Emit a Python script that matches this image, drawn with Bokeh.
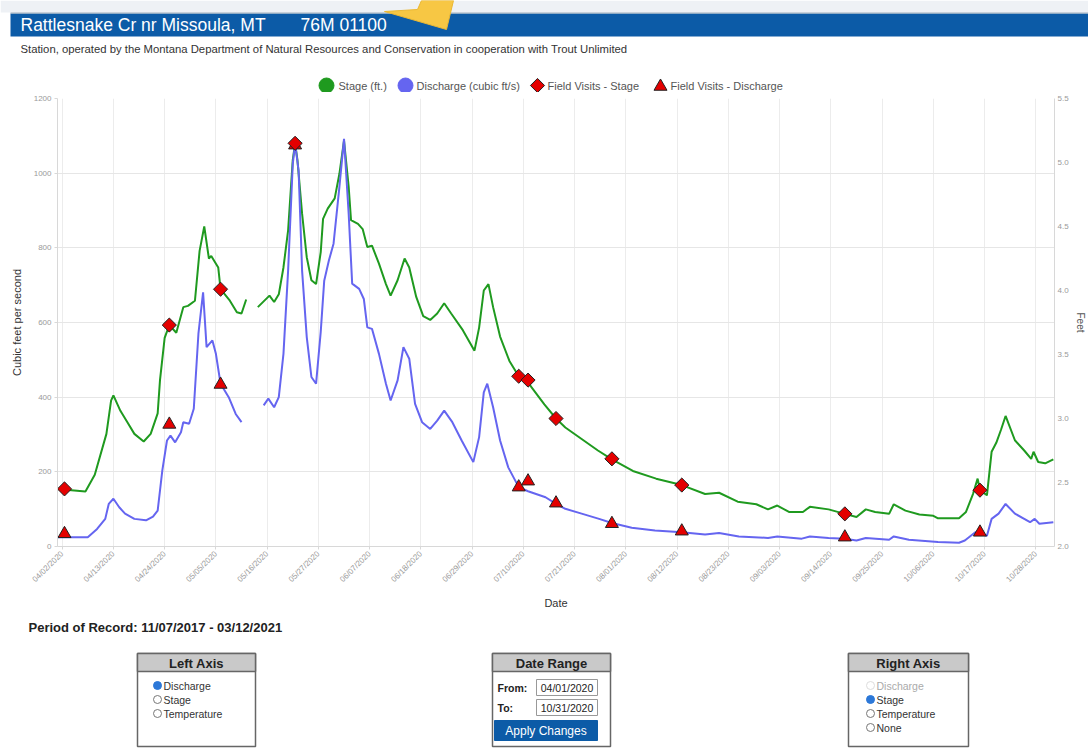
from math import pi
import pandas as pd
from bokeh.plotting import figure
from bokeh.models import (Range1d, LinearAxis, FixedTicker, DatetimeTickFormatter,
                          PrintfTickFormatter)
from bokeh.core.properties import value
from bokeh.embed import file_html
from bokeh.resources import INLINE

NaN = float("nan")

# ------------------------------------------------------------------ data
stage_dates = [
    "2020-04-01 00:00", "2020-04-04 00:00", "2020-04-07 00:00", "2020-04-09 00:00",
    "2020-04-11 12:00", "2020-04-12 12:00", "2020-04-13 00:00", "2020-04-14 12:00",
    "2020-04-16 00:00", "2020-04-17 12:00", "2020-04-19 12:00", "2020-04-21 00:00",
    "2020-04-22 12:00", "2020-04-23 00:00", "2020-04-24 00:00", "2020-04-25 00:00",
    "2020-04-26 12:00", "2020-04-28 00:00", "2020-04-29 00:00", "2020-04-30 12:00",
    "2020-05-01 12:00", "2020-05-02 12:00", "2020-05-03 12:00", "2020-05-04 00:00",
    "2020-05-05 12:00", "2020-05-06 00:00", "2020-05-08 00:00", "2020-05-09 12:00",
    "2020-05-10 12:00", "2020-05-11 12:00", "2020-05-12 12:00", "2020-05-14 00:00",
    "2020-05-16 12:00", "2020-05-17 12:00", "2020-05-18 12:00", "2020-05-19 12:00",
    "2020-05-20 12:00", "2020-05-21 12:00", "2020-05-22 00:00", "2020-05-22 12:00",
    "2020-05-23 12:00", "2020-05-24 12:00", "2020-05-25 12:00", "2020-05-26 12:00",
    "2020-05-27 12:00", "2020-05-28 00:00", "2020-05-29 00:00", "2020-05-30 12:00",
    "2020-05-31 12:00", "2020-06-01 12:00", "2020-06-02 12:00", "2020-06-03 00:00",
    "2020-06-04 12:00", "2020-06-05 12:00", "2020-06-06 12:00", "2020-06-07 12:00",
    "2020-06-09 00:00", "2020-06-10 12:00", "2020-06-11 12:00", "2020-06-13 00:00",
    "2020-06-14 12:00", "2020-06-15 12:00", "2020-06-17 00:00", "2020-06-18 12:00",
    "2020-06-20 00:00", "2020-06-21 12:00", "2020-06-23 00:00", "2020-06-24 12:00",
    "2020-06-27 00:00", "2020-06-29 12:00", "2020-06-30 12:00", "2020-07-01 12:00",
    "2020-07-02 12:00", "2020-07-03 12:00", "2020-07-05 00:00", "2020-07-07 00:00",
    "2020-07-09 00:00", "2020-07-11 00:00", "2020-07-14 12:00", "2020-07-17 00:00",
    "2020-07-19 00:00", "2020-07-22 12:00", "2020-07-26 00:00", "2020-07-29 00:00",
    "2020-08-02 12:00", "2020-08-07 12:00", "2020-08-13 00:00", "2020-08-18 00:00",
    "2020-08-21 00:00", "2020-08-25 00:00", "2020-08-29 00:00", "2020-08-31 12:00",
    "2020-09-02 12:00", "2020-09-05 00:00", "2020-09-08 00:00", "2020-09-09 12:00",
    "2020-09-13 12:00", "2020-09-17 00:00", "2020-09-19 12:00", "2020-09-21 12:00",
    "2020-09-23 12:00", "2020-09-26 12:00", "2020-09-27 12:00", "2020-09-30 00:00",
    "2020-10-03 00:00", "2020-10-06 00:00", "2020-10-07 00:00", "2020-10-11 12:00",
    "2020-10-13 00:00", "2020-10-14 12:00", "2020-10-15 12:00", "2020-10-16 00:00",
    "2020-10-17 12:00", "2020-10-18 12:00", "2020-10-19 12:00", "2020-10-20 12:00",
    "2020-10-21 12:00", "2020-10-23 12:00", "2020-10-25 12:00", "2020-10-27 00:00",
    "2020-10-27 12:00", "2020-10-28 12:00", "2020-10-30 00:00", "2020-10-31 18:00",
]
stage_ft = [
    2.45, 2.44, 2.43, 2.56,
    2.88, 3.14, 3.18, 3.06,
    2.97, 2.88, 2.82, 2.88,
    3.04, 3.30, 3.63, 3.73,
    3.67, 3.87, 3.88, 3.92,
    4.31, 4.50, 4.25, 4.27,
    4.18, 4.01, 3.92, 3.83,
    3.82, 3.93, NaN, 3.87,
    3.96, 3.91, 3.97, 4.18,
    4.47, 5.02, 5.15, 5.02,
    4.60, 4.26, 4.08, 4.05,
    4.30, 4.56, 4.64, 4.72,
    4.91, 5.17, 4.81, 4.55,
    4.52, 4.48, 4.34, 4.35,
    4.21, 4.05, 3.96, 4.08,
    4.25, 4.18, 3.95, 3.80,
    3.77, 3.82, 3.90, 3.82,
    3.69, 3.53, 3.71, 4.00,
    4.05, 3.87, 3.64, 3.45,
    3.33, 3.28, 3.11, 3.00,
    2.93, 2.84, 2.75, 2.68,
    2.59, 2.53, 2.48, 2.41,
    2.42, 2.35, 2.33, 2.29,
    2.32, 2.27, 2.27, 2.31,
    2.29, 2.255, 2.23, 2.29,
    2.27, 2.255, 2.33, 2.28,
    2.25, 2.24, 2.22, 2.22,
    2.27, 2.41, 2.53, 2.44,
    2.40, 2.74, 2.81, 2.91,
    3.02, 2.83, 2.75, 2.685,
    2.74, 2.66, 2.65, 2.68,
]

discharge_dates = [
    "2020-04-01 00:00", "2020-04-07 12:00", "2020-04-09 12:00", "2020-04-11 06:00",
    "2020-04-12 00:00", "2020-04-13 00:00", "2020-04-14 06:00", "2020-04-15 12:00",
    "2020-04-17 12:00", "2020-04-20 00:00", "2020-04-21 12:00", "2020-04-22 12:00",
    "2020-04-23 12:00", "2020-04-24 12:00", "2020-04-25 06:00", "2020-04-26 06:00",
    "2020-04-27 12:00", "2020-04-28 00:00", "2020-04-29 06:00", "2020-04-30 06:00",
    "2020-05-01 06:00", "2020-05-02 06:00", "2020-05-03 00:00", "2020-05-04 06:00",
    "2020-05-05 00:00", "2020-05-06 00:00", "2020-05-07 18:00", "2020-05-09 06:00",
    "2020-05-10 12:00", "2020-05-12 12:00", "2020-05-15 06:00", "2020-05-16 06:00",
    "2020-05-17 12:00", "2020-05-18 12:00", "2020-05-19 12:00", "2020-05-20 12:00",
    "2020-05-21 12:00", "2020-05-22 00:00", "2020-05-22 18:00", "2020-05-23 12:00",
    "2020-05-24 12:00", "2020-05-25 12:00", "2020-05-26 12:00", "2020-05-27 12:00",
    "2020-05-28 06:00", "2020-05-29 06:00", "2020-05-30 06:00", "2020-05-31 12:00",
    "2020-06-01 12:00", "2020-06-02 12:00", "2020-06-03 06:00", "2020-06-04 18:00",
    "2020-06-05 18:00", "2020-06-06 12:00", "2020-06-07 12:00", "2020-06-09 00:00",
    "2020-06-10 12:00", "2020-06-11 12:00", "2020-06-13 00:00", "2020-06-14 06:00",
    "2020-06-15 12:00", "2020-06-16 18:00", "2020-06-18 06:00", "2020-06-20 00:00",
    "2020-06-21 12:00", "2020-06-23 00:00", "2020-06-24 18:00", "2020-06-26 18:00",
    "2020-06-29 06:00", "2020-06-30 12:00", "2020-07-01 12:00", "2020-07-02 06:00",
    "2020-07-03 12:00", "2020-07-05 00:00", "2020-07-06 18:00", "2020-07-09 00:00",
    "2020-07-11 00:00", "2020-07-14 18:00", "2020-07-17 00:00", "2020-07-19 00:00",
    "2020-07-22 12:00", "2020-07-26 06:00", "2020-07-29 00:00", "2020-08-02 06:00",
    "2020-08-07 06:00", "2020-08-13 00:00", "2020-08-18 00:00", "2020-08-21 00:00",
    "2020-08-25 06:00", "2020-08-31 12:00", "2020-09-02 12:00", "2020-09-07 18:00",
    "2020-09-09 12:00", "2020-09-13 12:00", "2020-09-17 00:00", "2020-09-19 12:00",
    "2020-09-21 12:00", "2020-09-26 12:00", "2020-09-27 12:00", "2020-09-30 18:00",
    "2020-10-07 00:00", "2020-10-11 12:00", "2020-10-12 18:00", "2020-10-15 00:00",
    "2020-10-17 12:00", "2020-10-18 12:00", "2020-10-20 00:00", "2020-10-21 12:00",
    "2020-10-23 12:00", "2020-10-25 12:00", "2020-10-26 18:00", "2020-10-27 18:00",
    "2020-10-28 18:00", "2020-10-31 18:00",
]
discharge_cfs = [
    25, 25, 47, 74,
    114, 128, 105, 88,
    74, 70, 80, 96,
    204, 284, 297, 279,
    306, 333, 329, 369,
    570, 681, 534, 552,
    516, 436, 400, 355,
    333, NaN, 378, 396,
    373, 400, 516, 739,
    1025, 1079, 1007, 739,
    561, 454, 436, 575,
    712, 766, 811, 962,
    1092, 891, 704, 690,
    663, 587, 583, 516,
    436, 391, 445, 534,
    503, 382, 333, 315,
    337, 364, 333, 284,
    226, 293, 413, 436,
    373, 284, 212, 159,
    148, 132, 114, 101,
    88, 74, 63, 50,
    43, 38, 32, 36,
    27, 23, 27, 21,
    27, 23, 21, 16,
    23, 18, 27, 18,
    12, 10, 16, 38,
    29, 74, 88, 114,
    88, 74, 65, 74,
    61, 65,
]

visit_dates = [
    "2020-04-02 12:00", "2020-04-25 00:00", "2020-05-06 00:00", "2020-05-22 00:00",
    "2020-07-09 00:00", "2020-07-11 00:00", "2020-07-17 00:00", "2020-07-29 00:00",
    "2020-08-13 00:00", "2020-09-17 00:00", "2020-10-16 00:00",
]
visit_stage_ft = [2.45, 3.73, 4.01, 5.15, 3.33, 3.30, 3.00, 2.685, 2.48, 2.255, 2.44]
visit_discharge_cfs = [34, 327, 434, 1075, 159, 175, 116, 61, 41, 25, 38]

x_tick_dates = [
    "2020-04-02", "2020-04-13", "2020-04-24", "2020-05-05", "2020-05-16",
    "2020-05-27", "2020-06-07", "2020-06-18", "2020-06-29", "2020-07-10",
    "2020-07-21", "2020-08-01", "2020-08-12", "2020-08-23", "2020-09-03",
    "2020-09-14", "2020-09-25", "2020-10-06", "2020-10-17", "2020-10-28",
]
left_ticks = [0, 200, 400, 600, 800, 1000, 1200]
right_ticks = [2.0, 2.5, 3.0, 3.5, 4.0, 4.5, 5.0, 5.5]

legend_labels = ["Stage (ft.)", "Discharge (cubic ft/s)",
                 "Field Visits - Stage", "Field Visits - Discharge"]
left_axis_options = ["Discharge", "Stage", "Temperature"]
right_axis_options = ["Discharge", "Stage", "Temperature", "None"]

# ------------------------------------------------------------------ style
FONT = "Liberation Sans"
GREEN = "#1f9a1f"
BLUE = "#6565f0"
RED = "#e40000"
BAR_BLUE = "#0c5ba7"
W = 1088
HEAD_Y0, MAIN_Y0, FOOT_Y0, PAGE_H = 0, 92, 614, 755


def to_dt(lst):
    return pd.to_datetime(lst)


def to_ms(lst):
    return [float((t - pd.Timestamp("1970-01-01")) / pd.Timedelta(milliseconds=1))
            for t in pd.to_datetime(lst)]


def canvas(y0, y1):
    # a figure whose data coordinates are the page's pixel coordinates
    f = figure(width=W, height=y1 - y0, x_range=Range1d(0, W), y_range=Range1d(y1, y0),
               x_axis_type=None, y_axis_type=None, output_backend="svg",
               toolbar_location=None, min_border=0, outline_line_color=None)
    f.background_fill_color = "white"
    f.border_fill_color = "white"
    return f


def txt(f, x, y, s, size="10px", color="#333333", bold=False, align="left"):
    f.text(x=[x], y=[y], text=[s], text_font=value(FONT), text_font_size=size,
           text_color=color, text_align=align, text_baseline="middle",
           text_font_style="bold" if bold else "normal")


# ------------------------------------------------------------------ header
head = canvas(HEAD_Y0, MAIN_Y0)
head.quad(left=0, right=W, top=0, bottom=12, fill_color="#eef1f5", line_color=None)
head.quad(left=10, right=W, top=13, bottom=36, fill_color=BAR_BLUE, line_color=None)
head.segment(x0=[10], y0=[12.5], x1=[W], y1=[12.5], line_color="#9aa9b8", line_width=1)
txt(head, 20, 24.5, "Rattlesnake Cr nr Missoula, MT", size="17.5px", color="white")
txt(head, 300, 24.5, "76M 01100", size="17.5px", color="white")
txt(head, 20, 48, "Station, operated by the Montana Department of Natural Resources and "
    "Conservation in cooperation with Trout Unlimited", size="11.3px", color="#333333")
# yellow pointer arrow overlaid on the screenshot
head.patch(x=[446, 384, 417, 421, 453], y=[29, 11, 9, 0, 0],
           fill_color="#f7c744", line_color="#eab733", line_width=1)
# legend
LY = 85
head.scatter(x=[326], y=[LY], marker="circle", size=15, fill_color=GREEN, line_color=GREEN)
head.scatter(x=[405], y=[LY], marker="circle", size=15, fill_color=BLUE, line_color=BLUE)
head.scatter(x=[537], y=[LY], marker="square", angle=pi / 4, size=10,
             fill_color=RED, line_color="#222222", line_width=1)
head.scatter(x=[660], y=[LY + 1], marker="triangle", size=13,
             fill_color=RED, line_color="#222222", line_width=1)
for lx, lab in zip([338, 416, 547, 670], legend_labels):
    txt(head, lx, LY, lab, size="11px", color="#555555")

# ------------------------------------------------------------------ main chart
p = figure(width=W, height=FOOT_Y0 - MAIN_Y0, x_axis_type="datetime",
           x_range=Range1d(pd.Timestamp("2020-04-01"), pd.Timestamp("2020-11-01")),
           y_range=Range1d(0, 1200), output_backend="svg", toolbar_location=None,
           min_border_left=57, min_border_right=34, min_border_top=6,
           min_border_bottom=68, outline_line_color=None)
p.border_fill_color = "white"
p.extra_y_ranges = {"stage": Range1d(2.0, 5.5)}

p.xaxis.ticker = FixedTicker(ticks=to_ms(x_tick_dates))
fmt = "%m/%d/%Y"
p.xaxis.formatter = DatetimeTickFormatter(milliseconds=fmt, seconds=fmt, minsec=fmt,
                                          minutes=fmt, hourmin=fmt, hours=fmt, days=fmt,
                                          months=fmt, years=fmt)
p.xaxis.major_label_orientation = pi / 4
p.xaxis.axis_label = "Date"
p.xaxis.axis_label_standoff = 7

p.yaxis.ticker = FixedTicker(ticks=left_ticks)
p.yaxis.axis_label = "Cubic feet per second"
p.yaxis.axis_label_standoff = 8

right = LinearAxis(y_range_name="stage", ticker=FixedTicker(ticks=right_ticks),
                   formatter=PrintfTickFormatter(format="%.1f"), axis_label="Feet",
                   axis_label_standoff=3)
p.add_layout(right, "right")

for ax in [p.xaxis[0], p.yaxis[0], right]:
    ax.axis_line_color = "#d8d8d8"
    ax.major_tick_line_color = "#d8d8d8"
    ax.major_tick_out = 3
    ax.major_tick_in = 0
    ax.minor_tick_line_color = None
    ax.major_label_text_font = FONT
    ax.major_label_text_font_size = "8px"
    ax.major_label_text_color = "#9a9a9a"
    ax.major_label_standoff = 3
    ax.axis_label_text_font = FONT
    ax.axis_label_text_font_size = "11px"
    ax.axis_label_text_font_style = "normal"
    ax.axis_label_text_color = "#333333"
right.major_tick_out = 0
right.major_label_standoff = 3
right.axis_label_text_font_size = "10px"
right.axis_label_text_color = "#555555"

p.xgrid.grid_line_color = "#ececec"
p.ygrid.grid_line_color = "#e6e6e6"

p.line(to_dt(stage_dates), stage_ft, y_range_name="stage", line_color=GREEN, line_width=2)
p.line(to_dt(discharge_dates), discharge_cfs, line_color=BLUE, line_width=2)
p.scatter(to_dt(visit_dates), visit_discharge_cfs, marker="triangle", size=13,
          fill_color=RED, line_color="#222222", line_width=1)
p.scatter(to_dt(visit_dates), visit_stage_ft, y_range_name="stage", marker="square",
          angle=pi / 4, size=10, fill_color=RED, line_color="#222222", line_width=1)

# ------------------------------------------------------------------ controls
foot = canvas(FOOT_Y0, PAGE_H)
txt(foot, 28, 627, "Period of Record: 11/07/2017 - 03/12/2021", size="13px",
    color="#222222", bold=True)


def panel(f, x0, x1, title):
    f.quad(left=x0, right=x1, top=653, bottom=746, fill_color="white",
           line_color="#666666", line_width=1.5)
    f.quad(left=x0, right=x1, top=653, bottom=671, fill_color="#c9c9c9",
           line_color="#666666", line_width=1.5)
    txt(f, (x0 + x1) / 2, 662.5, title, size="13px", color="#222222", bold=True,
        align="center")


def radios(f, x, labels, selected, disabled=()):
    for i, lab in enumerate(labels):
        y = 685 + 14 * i
        if lab == selected:
            f.scatter(x=[x], y=[y], marker="circle", size=8, fill_color="#2c78d8",
                      line_color="#2c78d8")
        else:
            f.scatter(x=[x], y=[y], marker="circle", size=8, fill_color="white",
                      line_color="#dddddd" if lab in disabled else "#777777")
        txt(f, x + 6, y, lab, size="10.5px",
            color="#aaaaaa" if lab in disabled else "#333333")


panel(foot, 137, 255, "Left Axis")
radios(foot, 157, left_axis_options, "Discharge")

panel(foot, 492, 610, "Date Range")
txt(foot, 497, 687, "From:", size="10.5px", color="#222222", bold=True)
txt(foot, 497, 707, "To:", size="10.5px", color="#222222", bold=True)
foot.quad(left=536, right=597, top=679, bottom=695, fill_color="white",
          line_color="#999999")
foot.quad(left=536, right=597, top=699, bottom=715, fill_color="white",
          line_color="#999999")
txt(foot, 566.5, 687, "04/01/2020", size="10.5px", color="#222222", align="center")
txt(foot, 566.5, 707, "10/31/2020", size="10.5px", color="#222222", align="center")
foot.quad(left=494, right=597, top=720, bottom=740, fill_color=BAR_BLUE,
          line_color=BAR_BLUE)
txt(foot, 545.5, 730, "Apply Changes", size="12px", color="white", align="center")

panel(foot, 848, 968, "Right Axis")
radios(foot, 870, right_axis_options, "Stage", disabled=("Discharge",))

# three independent roots stacked on the page (no frame alignment between them)
open("out.html", "w").write(file_html((head, p, foot), INLINE))
